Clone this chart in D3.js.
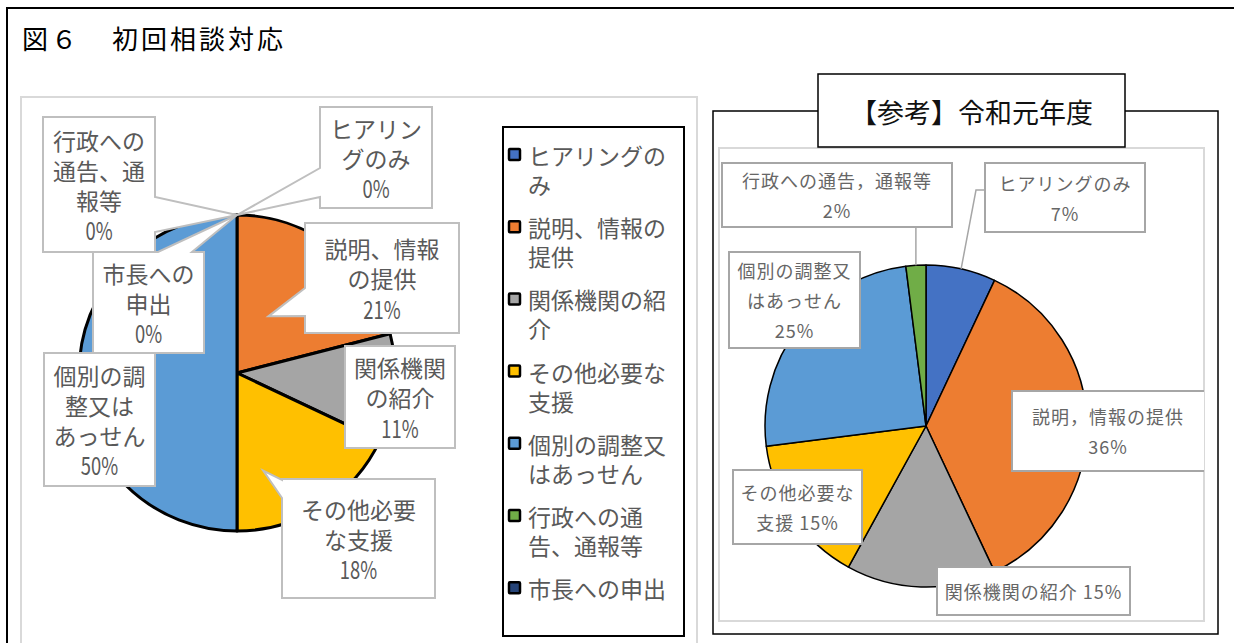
<!DOCTYPE html>
<html>
<head>
<meta charset="utf-8">
<script src="https://cdn.jsdelivr.net/npm/d3@7"></script>
<style>
    body { margin: 0; background: #fff; }
    svg { display: block; }
    text { font-family: "Noto Sans CJK JP", sans-serif; }
</style>
</head>
<body>
<div id="chart"></div>
<script>
// 分類と色
const categories = ['ヒアリングのみ', '説明、情報の提供', '関係機関の紹介', 'その他必要な支援',
    '個別の調整又はあっせん', '行政への通告、通報等', '市長への申出'];
const colors = ['#4472C4', '#ED7D31', '#A5A5A5', '#FFC000', '#5B9BD5', '#70AD47', '#264478'];

// 今年度（％）と 令和元年度（％）
const currentValues = [0, 21, 11, 18, 50, 0, 0];
const reiwa1Values = [7, 36, 15, 15, 25, 2, 0];

// 凡例・ラベルの改行
const legendLines = [['ヒアリングの', 'み'], ['説明、情報の', '提供'], ['関係機関の紹', '介'],
    ['その他必要な', '支援'], ['個別の調整又', 'はあっせん'], ['行政への通', '告、通報等'], ['市長への申出']];
const leftLabelLines = [['ヒアリン', 'グのみ', '{p}'], ['説明、情報', 'の提供', '{p}'], ['関係機関', 'の紹介', '{p}'],
    ['その他必要', 'な支援', '{p}'], ['個別の調', '整又は', 'あっせん', '{p}'], ['行政への', '通告、通', '報等', '{p}'],
    ['市長への', '申出', '{p}']];
const rightLabelLines = [['ヒアリングのみ', '{p}'], ['説明，情報の提供', '{p}'], ['関係機関の紹介 {p}'],
    ['その他必要な', '支援 {p}'], ['個別の調整又', 'はあっせん', '{p}'], ['行政への通告，通報等', '{p}'], null];

// 配置（ラベル枠の位置と吹き出し）
const leftBoxes = [
    {box: [320, 107, 112, 101], side: 'left', b: [61, 90]},
    {box: [305, 223, 154, 110], side: 'left', b: [65, 93], tip: [29, 0.41]},
    {box: [345, 346, 110, 102], side: null},
    {box: [282, 479, 153, 119], side: 'left', b: [1, 19], tip: [165, 0.64]},
    {box: [44, 353, 111, 133], side: null},
    {box: [43, 117, 112, 135], side: 'right', b: [80, 115]},
    {box: [93, 252, 111, 101], side: 'top', b: [65, 99]}
];
const rightBoxes = [
    {box: [985, 163, 160, 69], leader: 'elbow'},
    {box: [1012, 391, 200, 80]},
    {box: [937, 567, 193, 48]},
    {box: [733, 470, 129, 74]},
    {box: [729, 252, 131, 96]},
    {box: [722, 163, 230, 64], leader: 'down'},
    null
];

const width = 1234, height = 643;
const svg = d3.select('#chart').append('svg')
    .attr('width', width)
    .attr('height', height);

const pie = d3.pie().sort(null).value(d => d.value);
const polar = (cx, cy, a, r) => [cx + r * Math.sin(a), cy - r * Math.cos(a)];
const pct = v => v + '%';

// 外枠
svg.append('path')
    .attr('d', `M7,${height} V8 H${width}`)
    .attr('fill', 'none').attr('stroke', '#000').attr('stroke-width', 2);

svg.append('text').attr('x', 22).attr('y', 37)
    .attr('dominant-baseline', 'central')
    .attr('font-size', 26).attr('letter-spacing', 3).attr('fill', '#000')
    .text('図６');
svg.append('text').attr('x', 112).attr('y', 37)
    .attr('dominant-baseline', 'central')
    .attr('font-size', 26).attr('letter-spacing', 3).attr('fill', '#000')
    .text('初回相談対応');

// ---------- 左：今年度 ----------
svg.append('rect')
    .attr('x', 21).attr('y', 97).attr('width', 676).attr('height', 580)
    .attr('fill', '#fff').attr('stroke', '#d9d9d9').attr('stroke-width', 2);

const L = {cx: 237, cy: 373, r: 158};
const leftData = pie(categories.map((c, i) => ({cat: c, value: currentValues[i], i})));
const leftArc = d3.arc().innerRadius(0).outerRadius(L.r);
const leftG = svg.append('g').attr('transform', `translate(${L.cx},${L.cy})`);
leftG.selectAll('path')
    .data(leftData.filter(d => d.value > 0))
    .join('path')
    .attr('d', leftArc)
    .attr('fill', d => colors[d.data.i])
    .attr('stroke', '#000')
    .attr('stroke-width', 3)
    .attr('stroke-linejoin', 'round');

function calloutPath(lb, tip) {
    const [x, y, w, h] = lb.box;
    const t = tip ? `L${tip[0]},${tip[1]}` : '';
    if (lb.side === 'top') {
        return `M${x},${y} L${x + lb.b[0]},${y} ${t} L${x + lb.b[1]},${y} L${x + w},${y} L${x + w},${y + h} L${x},${y + h} Z`;
    }
    if (lb.side === 'right') {
        return `M${x},${y} L${x + w},${y} L${x + w},${y + lb.b[0]} ${t} L${x + w},${y + lb.b[1]} L${x + w},${y + h} L${x},${y + h} Z`;
    }
    if (lb.side === 'left') {
        return `M${x},${y} L${x + w},${y} L${x + w},${y + h} L${x},${y + h} L${x},${y + lb.b[1]} ${t} L${x},${y + lb.b[0]} Z`;
    }
    return `M${x},${y} H${x + w} V${y + h} H${x} Z`;
}

const leftLabels = svg.append('g').attr('class', 'left-labels');
leftData.forEach((d, i) => {
    const lb = leftBoxes[i];
    const mid = (d.startAngle + d.endAngle) / 2;
    let tip = null;
    if (lb.side) {
        tip = lb.tip
            ? polar(L.cx, L.cy, lb.tip[0] * Math.PI / 180, lb.tip[1] * L.r)
            : polar(L.cx, L.cy, mid, L.r);
    }
    leftLabels.append('path')
        .attr('d', calloutPath(lb, tip))
        .attr('fill', '#fff')
        .attr('stroke', '#bfbfbf')
        .attr('stroke-width', 2);
    const lines = leftLabelLines[i].map(s => s.replace('{p}', pct(d.value)));
    const [x, y, w, h] = lb.box;
    lines.forEach((s, k) => {
        const ty = y + h / 2 + (k - (lines.length - 1) / 2) * 30;
        // 数字は細めの書体に見えるので横だけ少し詰める
        const narrow = /^[0-9]+%$/.test(s);
        leftLabels.append('text')
            .attr('transform', `translate(${x + w / 2},${ty}) scale(${narrow ? 0.8 : 1},${narrow ? 1.08 : 1})`)
            .attr('text-anchor', 'middle')
            .attr('dominant-baseline', 'central')
            .attr('font-size', 23)
            .attr('fill', '#595959')
            .text(s);
    });
});

// 凡例
const legend = svg.append('g').attr('class', 'legend');
legend.append('rect')
    .attr('x', 503).attr('y', 127).attr('width', 181).attr('height', 509)
    .attr('fill', '#fff').attr('stroke', '#000').attr('stroke-width', 2);
categories.forEach((c, i) => {
    const y0 = 155 + i * 72.2;
    legend.append('rect')
        .attr('x', 509).attr('y', y0 - 6).attr('width', 11).attr('height', 11)
        .attr('fill', colors[i]).attr('stroke', '#000').attr('stroke-width', 2.5)
        .attr('rx', 1);
    legendLines[i].forEach((s, k) => {
        legend.append('text')
            .attr('x', 528).attr('y', y0 + k * 29)
            .attr('dominant-baseline', 'central')
            .attr('font-size', 23)
            .attr('fill', '#595959')
            .text(s);
    });
});

// ---------- 右：令和元年度 ----------
svg.append('rect')
    .attr('x', 713).attr('y', 111).attr('width', 505).attr('height', 523)
    .attr('fill', '#fff').attr('stroke', '#000').attr('stroke-width', 1.5);
const inner = {x: 719, y: 148, w: 485, h: 473};
svg.append('rect')
    .attr('x', inner.x).attr('y', inner.y).attr('width', inner.w).attr('height', inner.h)
    .attr('fill', '#fff').attr('stroke', '#d9d9d9').attr('stroke-width', 2);
svg.append('clipPath').attr('id', 'rclip')
    .append('rect')
    .attr('x', inner.x).attr('y', inner.y).attr('width', inner.w).attr('height', inner.h);

const R = {cx: 926, cy: 426, r: 161};
const rightData = pie(categories.map((c, i) => ({cat: c, value: reiwa1Values[i], i})));
const rightArc = d3.arc().innerRadius(0).outerRadius(R.r);
const rightG = svg.append('g').attr('transform', `translate(${R.cx},${R.cy})`);
rightG.selectAll('path')
    .data(rightData.filter(d => d.value > 0))
    .join('path')
    .attr('d', rightArc)
    .attr('fill', d => colors[d.data.i])
    .attr('stroke', '#000')
    .attr('stroke-width', 1.5)
    .attr('stroke-linejoin', 'round');

const rightLabels = svg.append('g').attr('clip-path', 'url(#rclip)');
rightData.forEach((d, i) => {
    const rb = rightBoxes[i];
    if (!rb) return;
    const [x, y, w, h] = rb.box;
    const mid = (d.startAngle + d.endAngle) / 2;
    const p = polar(R.cx, R.cy, mid, R.r);
    if (rb.leader === 'down') {
        rightLabels.append('path')
            .attr('d', `M${p[0]},${y + h} L${p[0]},${p[1]}`)
            .attr('fill', 'none').attr('stroke', '#a6a6a6').attr('stroke-width', 1.5);
    }
    if (rb.leader === 'elbow') {
        rightLabels.append('path')
            .attr('d', `M${x},${y + 27} L${x - 9},${y + 27} L${p[0]},${p[1]}`)
            .attr('fill', 'none').attr('stroke', '#a6a6a6').attr('stroke-width', 1.5);
    }
    rightLabels.append('rect')
        .attr('x', x).attr('y', y).attr('width', w).attr('height', h)
        .attr('fill', '#fff').attr('stroke', '#a6a6a6').attr('stroke-width', 2);
    const lines = rightLabelLines[i].map(s => s.replace('{p}', pct(d.value)));
    const cx = i === 1 ? x + (inner.x + inner.w - x) / 2 : x + w / 2;
    lines.forEach((s, k) => {
        rightLabels.append('text')
            .attr('x', cx)
            .attr('y', y + h / 2 + (k - (lines.length - 1) / 2) * 30)
            .attr('text-anchor', 'middle')
            .attr('dominant-baseline', 'central')
            .attr('font-size', 18)
            .attr('letter-spacing', 1)
            .attr('fill', '#666')
            .text(s);
    });
});

// 【参考】見出し
svg.append('rect')
    .attr('x', 818).attr('y', 74).attr('width', 307).attr('height', 73)
    .attr('fill', '#fff').attr('stroke', '#000').attr('stroke-width', 1.5);
svg.append('text')
    .attr('x', 818 + 307 / 2).attr('y', 111)
    .attr('text-anchor', 'middle')
    .attr('dominant-baseline', 'central')
    .attr('font-size', 27)
    .attr('fill', '#111')
    .text('【参考】令和元年度');
</script>
</body>
</html>
